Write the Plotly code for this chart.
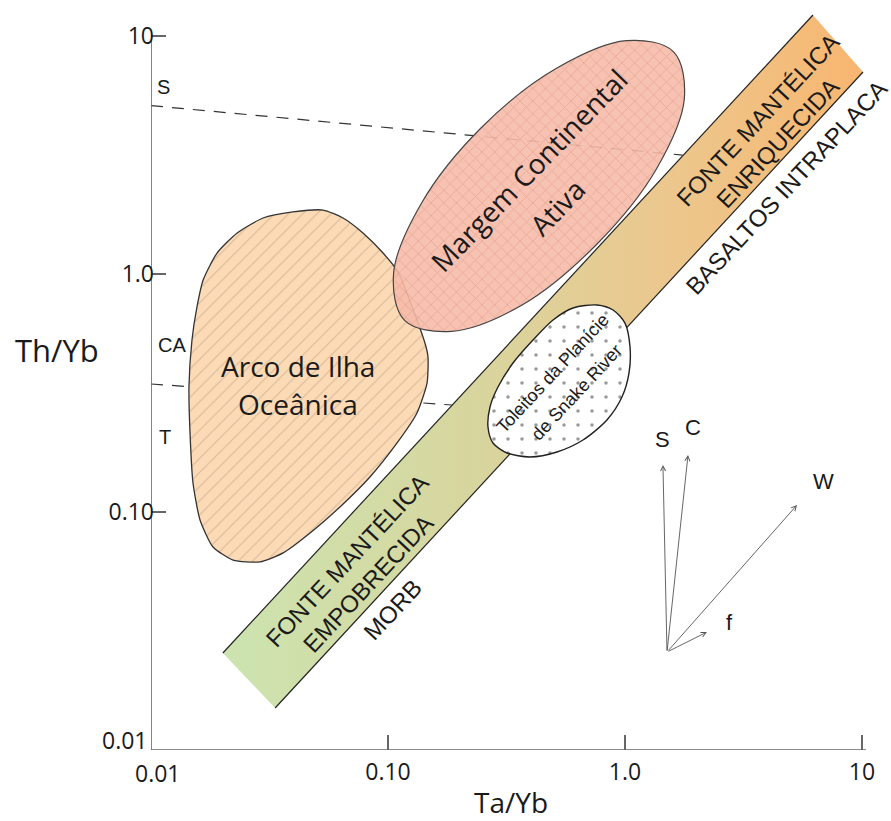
import math
import plotly.graph_objects as go

# ---------------- data (Ta/Yb, Th/Yb) ----------------
tick_vals = [0.01, 0.1, 1, 10]
x_tick_text = ["", "0.10", "1.0", "10"]
y_tick_text = ["", "0.10", "1.0", "10"]
origin_label = "0.01"

# MORB-OIB mantle array (band corners)
band_x = [0.0201, 6.21, 10.1, 0.0334]
band_y = [0.02556, 12.25, 7.06, 0.01501]

# Oceanic island arc field
arco_x = [0.0532, 0.0397, 0.0297, 0.0231, 0.0190, 0.0166, 0.01563, 0.01489, 0.01446,
          0.01461, 0.01504, 0.0161, 0.01827, 0.0222, 0.02884, 0.0361, 0.0469, 0.0627,
          0.0839, 0.1092, 0.1325, 0.1461, 0.1475, 0.1432, 0.1102, 0.0953, 0.0784, 0.0646]
arco_y = [1.857, 1.822, 1.719, 1.487, 1.225, 0.944, 0.727, 0.528, 0.335,
          0.2148, 0.1324, 0.0926, 0.0713, 0.0628, 0.0617, 0.0673, 0.0816, 0.105,
          0.1403, 0.195, 0.2606, 0.3483, 0.448, 0.513, 1.02, 1.225, 1.487, 1.719]

# Active continental margin field
margem_x = [1.60, 1.78, 1.357, 0.762, 0.368, 0.1855, 0.1175, 0.1056, 0.1386, 0.2468, 0.512, 1.014]
margem_y = [8.60, 5.46, 2.762, 1.337, 0.741, 0.574, 0.638, 1.006, 1.988, 4.105, 7.30, 9.56]

# Snake River Plain tholeiites field
snake_x = [0.762, 0.890, 1.0, 1.05, 1.04, 0.971, 0.839, 0.665, 0.5165, 0.3973,
           0.3178, 0.2773, 0.2642, 0.2694, 0.2911, 0.3369, 0.409, 0.497, 0.6035]
snake_y = [0.741, 0.706, 0.622, 0.494, 0.384, 0.304, 0.2435, 0.2007, 0.1787, 0.1703,
           0.177, 0.195, 0.2276, 0.2762, 0.335, 0.4227, 0.528, 0.641, 0.7197]

# Boundaries S / CA and CA / T
s_ca_x = [0.01, 1.75]
s_ca_y = [5.1, 3.16]
ca_t_x = [0.01, 0.186]
ca_t_y = [0.345, 0.2815]

# Vectors (origin and tips)
vec_origin = (1.504, 0.0258)
vec_names = ["S", "C", "W", "f"]
vec_tip_x = [1.446, 1.845, 5.32, 2.218]
vec_tip_y = [0.1576, 0.1736, 0.107, 0.0313]
vec_lab_x = [1.446, 1.936, 6.85, 2.773]
vec_lab_y = [0.2007, 0.2254, 0.1337, 0.0345]

L = math.log10
MYRIAD = "Open Sans"
ARIAL = "Liberation Sans"

fig = go.Figure()

# band
fig.add_trace(go.Scatter(
    x=band_x + [band_x[0]], y=band_y + [band_y[0]], mode="none", fill="toself",
    fillgradient=dict(type="horizontal",
                      colorscale=[[0, "#cce4b0"], [0.4, "#d8d59e"], [0.7, "#ecc78d"], [1, "#f8b670"]]),
    hoverinfo="skip", showlegend=False))
fig.add_trace(go.Scatter(x=[band_x[0], band_x[1]], y=[band_y[0], band_y[1]], mode="lines",
                         line=dict(color="#222", width=1.2), hoverinfo="skip", showlegend=False))
fig.add_trace(go.Scatter(x=[band_x[3], band_x[2]], y=[band_y[3], band_y[2]], mode="lines",
                         line=dict(color="#222", width=1.2), hoverinfo="skip", showlegend=False))

# dashed boundaries
for xs, ys in [(s_ca_x, s_ca_y), (ca_t_x, ca_t_y)]:
    fig.add_trace(go.Scatter(x=xs, y=ys, mode="lines",
                             line=dict(color="#333", width=1.2, dash="12px,9px"),
                             hoverinfo="skip", showlegend=False))

# Arco field
fig.add_trace(go.Scatter(
    x=arco_x + [arco_x[0]], y=arco_y + [arco_y[0]], mode="lines", fill="toself",
    fillcolor="#fcdab6",
    fillpattern=dict(shape="/", size=10, solidity=0.1, fgcolor="rgba(125,100,80,0.6)",
                     bgcolor="#fcdab6"),
    line=dict(color="#333", width=1.3, shape="spline", smoothing=0.6),
    hoverinfo="skip", showlegend=False))

# Margem field
fig.add_trace(go.Scatter(
    x=margem_x + [margem_x[0]], y=margem_y + [margem_y[0]], mode="lines", fill="toself",
    fillcolor="rgba(247,188,170,0.9)",
    fillpattern=dict(shape="x", size=9, solidity=0.16, fgcolor="rgba(200,110,90,0.7)",
                     bgcolor="rgba(247,188,170,0.9)"),
    line=dict(color="#444", width=1.2, shape="spline", smoothing=1.0),
    hoverinfo="skip", showlegend=False))

# Snake River field
fig.add_trace(go.Scatter(
    x=snake_x + [snake_x[0]], y=snake_y + [snake_y[0]], mode="lines", fill="toself",
    fillcolor="white",
    fillpattern=dict(shape=".", size=14, solidity=0.05, fgcolor="#333", bgcolor="white"),
    line=dict(color="#222", width=1.4, shape="spline", smoothing=0.8),
    hoverinfo="skip", showlegend=False))

# axis lines
fig.add_trace(go.Scatter(x=[0.01, 0.01, 10.4], y=[10.6, 0.01, 0.01], mode="lines",
                         line=dict(color="#666", width=1.6), hoverinfo="skip", showlegend=False))

ann = []
def label(text, x, y, size, font=ARIAL, angle=0, color="#1a1a1a"):
    ann.append(dict(text=text, x=L(x), y=L(y), xref="x", yref="y", showarrow=False,
                    textangle=angle, font=dict(family=font, size=size, color=color)))

label("S", 0.01124, 6.11, 20)
label("CA", 0.01226, 0.503, 20)
label("T", 0.01146, 0.2066, 20)
label("Arco de Ilha", 0.0417, 0.4107, 28, MYRIAD)
label("Oceânica", 0.0417, 0.2844, 28, MYRIAD)
label("Margem Continental", 0.3935, 2.735, 28, MYRIAD, -46)
label("Ativa", 0.5165, 1.912, 28, MYRIAD, -46)
label("Toleitos da Planície", 0.4968, 0.3837, 18, ARIAL, -47)
label("de Snake River", 0.6272, 0.3193, 18, ARIAL, -47)
label("FONTE MANTÉLICA", 3.606, 4.436, 24, ARIAL, -47)
label("ENRIQUECIDA", 4.379, 3.551, 24, ARIAL, -47)
label("BASALTOS INTRAPLACA", 4.778, 2.32, 24, ARIAL, -47)
label("FONTE MANTÉLICA", 0.06714, 0.06285, 24, ARIAL, -47)
label("EMPOBRECIDA", 0.0823, 0.05031, 24, ARIAL, -47)
label("MORB", 0.105, 0.03875, 24, ARIAL, -47)

for name, tx, ty, lx, ly in zip(vec_names, vec_tip_x, vec_tip_y, vec_lab_x, vec_lab_y):
    ann.append(dict(x=L(tx), y=L(ty), ax=L(vec_origin[0]), ay=L(vec_origin[1]),
                    xref="x", yref="y", axref="x", ayref="y", text="", showarrow=True,
                    arrowhead=5, arrowsize=1.1, arrowwidth=0.9, arrowcolor="#555", standoff=0))
    label(name, lx, ly, 22)

# origin tick labels (offset as in the reference)
ann.append(dict(text=origin_label, x=-2, y=-2, xref="x", yref="y", showarrow=False,
                xanchor="center", yanchor="top", xshift=7, yshift=-5,
                font=dict(family=MYRIAD, size=23, color="#1a1a1a")))
ann.append(dict(text=origin_label, x=-2, y=-2, xref="x", yref="y", showarrow=False,
                xanchor="right", yanchor="middle", xshift=-1, yshift=10,
                font=dict(family=MYRIAD, size=23, color="#1a1a1a")))

# axis titles
ann.append(dict(text="Ta/Yb", x=0.50, y=-0.0705, xref="paper", yref="paper", showarrow=False,
                xanchor="center", yanchor="middle", font=dict(family=MYRIAD, size=28, color="#1a1a1a")))
ann.append(dict(text="Th/Yb", x=-0.131, y=0.542, xref="paper", yref="paper", showarrow=False,
                xanchor="center", yanchor="middle", font=dict(family=MYRIAD, size=31, color="#1a1a1a")))

fig.update_layout(
    width=891, height=821, margin=dict(l=151, r=21, t=12, b=71),
    paper_bgcolor="white", plot_bgcolor="white", showlegend=False,
    annotations=ann,
    xaxis=dict(type="log", range=[-2, 1.0338], tickvals=tick_vals, ticktext=x_tick_text,
               ticks="inside", ticklen=15, tickwidth=1.5, tickcolor="#666",
               showgrid=False, zeroline=False, showline=False, ticklabelstandoff=6,
               tickfont=dict(family=MYRIAD, size=23, color="#1a1a1a")),
    yaxis=dict(type="log", range=[-2, 1.1008], tickvals=tick_vals, ticktext=y_tick_text,
               ticks="inside", ticklen=15, tickwidth=1.5, tickcolor="#666",
               showgrid=False, zeroline=False, showline=False, ticklabelstandoff=-4,
               tickfont=dict(family=MYRIAD, size=23, color="#1a1a1a")),
)

fig.write_html("out.html")
